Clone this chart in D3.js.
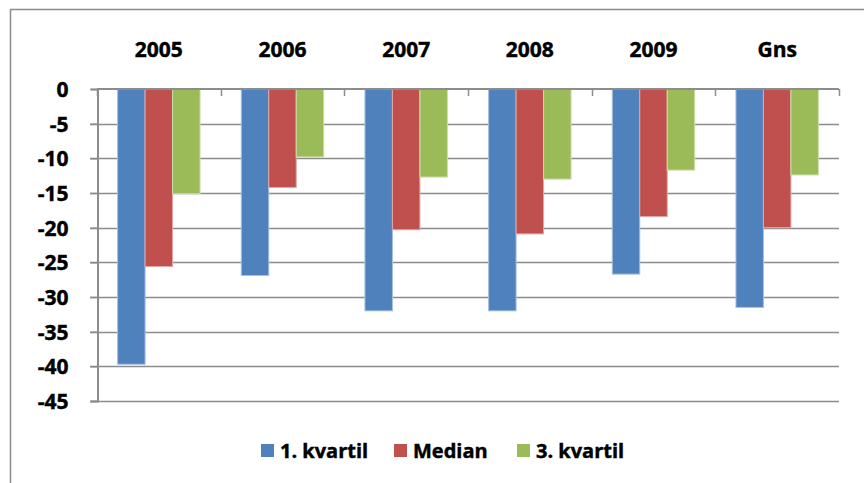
<!DOCTYPE html>
<html>
<head>
<meta charset="utf-8">
<script src="https://cdn.jsdelivr.net/npm/d3@7"></script>
<style>
  body { margin: 0; background: #fff; }
  text { font-family: "Open Sans", sans-serif; font-weight: 700; fill: #000; stroke: #000; stroke-width: 0.45px; }
</style>
</head>
<body>
<div id="chart"></div>
<script>
// data
var categories = ["2005", "2006", "2007", "2008", "2009", "Gns"];
var seriesNames = ["1. kvartil", "Median", "3. kvartil"];
var kvartil1 = [-39.7, -26.9, -32.0, -32.0, -26.7, -31.5];
var median = [-25.6, -14.2, -20.3, -20.9, -18.4, -20.0];
var kvartil3 = [-15.1, -9.8, -12.7, -13.0, -11.7, -12.4];
var yTicks = [0, -5, -10, -15, -20, -25, -30, -35, -40, -45];

var colors = ["#4F81BD", "#C0504D", "#9BBB59"];
var edges = ["#A7C0DE", "#DFA7A6", "#CDDDAC"];

var W = 864, H = 483;
var margin = {top: 89, left: 97, right: 25, bottom: 82};
var fontSize = "21px";

var svg = d3.select("#chart").append("svg")
    .attr("width", W)
    .attr("height", H);

// outer chart frame (cut off at right and bottom)
svg.append("rect")
    .attr("x", 10.5).attr("y", 9.5)
    .attr("width", W + 20).attr("height", H + 20)
    .attr("fill", "none")
    .attr("stroke", "#8C8C8C")
    .attr("stroke-width", 1.5);

var x = d3.scaleBand()
    .domain(categories)
    .range([margin.left, W - margin.right])
    .paddingInner(0).paddingOuter(0);

var x1 = d3.scaleBand()
    .domain(seriesNames)
    .range([0, x.bandwidth()])
    .paddingInner(0)
    .paddingOuter(0.75);

var y = d3.scaleLinear()
    .domain([0, -45])
    .range([margin.top, H - margin.bottom]);

var g = svg.append("g");

// horizontal gridlines
g.selectAll(".grid")
    .data(yTicks.slice(1))
  .enter().append("line")
    .attr("class", "grid")
    .attr("x1", margin.left - 7)
    .attr("x2", W - margin.right)
    .attr("y1", function(d) { return Math.round(y(d)) + 0.5; })
    .attr("y2", function(d) { return Math.round(y(d)) + 0.5; })
    .attr("stroke", "#8C8C8C")
    .attr("stroke-width", 1.5);

// bars
var series = [kvartil1, median, kvartil3];
series.forEach(function(vals, si) {
  g.selectAll(".bar" + si)
      .data(vals)
    .enter().append("rect")
      .attr("class", "bar" + si)
      .attr("x", function(d, i) { return x(categories[i]) + x1(seriesNames[si]); })
      .attr("y", y(0))
      .attr("width", x1.bandwidth())
      .attr("height", function(d) { return y(d) - y(0); })
      .attr("fill", colors[si])
      .attr("stroke", edges[si])
      .attr("stroke-width", 1);
});

// y axis
var yAxis = d3.axisLeft(y)
    .tickValues(yTicks)
    .tickSize(7)
    .tickPadding(22)
    .tickFormat(d3.format("d"));

var ya = svg.append("g")
    .attr("transform", "translate(" + (margin.left + 0.5) + ",0)")
    .call(yAxis);
ya.select(".domain").attr("stroke", "#8C8C8C").attr("stroke-width", 2);
ya.selectAll(".tick line").attr("stroke", "#8C8C8C").attr("stroke-width", 1.5);
ya.selectAll(".tick text")
    .style("font-size", fontSize)
    .style("font-family", null)
    .attr("font-family", null)
    .attr("dy", "0.36em")
    .text(function(d) { return d === 0 ? "0" : "-" + Math.abs(d); });

// x axis along the zero line, ticks at the category borders
var xa = svg.append("g");
xa.append("line")
    .attr("x1", margin.left).attr("x2", W - margin.right)
    .attr("y1", y(0)).attr("y2", y(0))
    .attr("stroke", "#8C8C8C").attr("stroke-width", 2);
var borders = categories.map(function(c) { return x(c); }).concat([x.range()[1]]);
xa.selectAll(".xt")
    .data(borders)
  .enter().append("line")
    .attr("class", "xt")
    .attr("x1", function(d) { return Math.round(d) + 0.5; })
    .attr("x2", function(d) { return Math.round(d) + 0.5; })
    .attr("y1", y(0)).attr("y2", y(0) + 7)
    .attr("stroke", "#8C8C8C").attr("stroke-width", 1.5);

// category labels above the chart
svg.selectAll(".cat")
    .data(categories)
  .enter().append("text")
    .attr("class", "cat")
    .attr("x", function(d) { return x(d) + x.bandwidth() / 2; })
    .attr("y", 57)
    .attr("text-anchor", "middle")
    .style("font-size", fontSize)
    .text(function(d) { return d; });

// legend
var legendX = [261, 394, 517];
var legend = svg.selectAll(".legend")
    .data(seriesNames)
  .enter().append("g")
    .attr("class", "legend")
    .attr("transform", function(d, i) { return "translate(" + legendX[i] + ",444)"; });
legend.append("rect")
    .attr("width", 13).attr("height", 13)
    .attr("fill", function(d, i) { return colors[i]; });
legend.append("text")
    .attr("x", 19)
    .attr("y", 14)
    .style("font-size", "20px")
    .text(function(d) { return d; });
</script>
</body>
</html>
